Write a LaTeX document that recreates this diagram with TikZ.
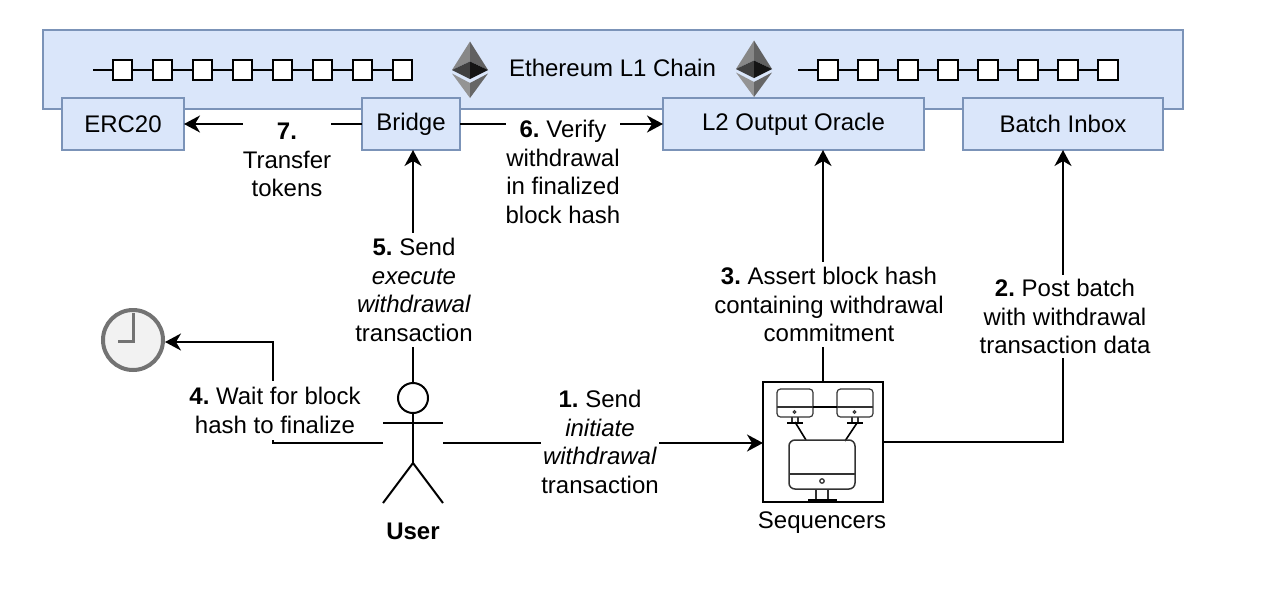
\documentclass[tikz,border=0pt]{standalone}
\usepackage{fontspec}
\setmainfont{Liberation Sans}
\usetikzlibrary{arrows.meta}
\definecolor{boxfill}{HTML}{DAE6FA}
\definecolor{boxline}{HTML}{7B93B8}
\newcommand{\boxtext}[1]{\raisebox{-1.5pt}{\fontsize{24}{28}\selectfont #1}}
\tikzset{
  mainbox/.style={draw=boxline,fill=boxfill,line width=2pt,minimum width=#1,minimum height=52pt,outer sep=0pt,inner sep=0pt},
  chainsq/.style={draw=black,fill=white,line width=1.6pt,minimum width=19.5pt,minimum height=19.5pt,outer sep=0pt,inner sep=0pt},
  conn/.style={line width=2pt,-{Stealth[length=16pt,width=17pt,inset=5pt]}},
  lbl/.style={fill=white,align=center,inner xsep=0pt,inner ysep=0pt,font=\fontsize{24}{28.8}\selectfont},
  txt/.style={align=center,inner sep=0pt,font=\fontsize{24}{28.8}\selectfont},
  monline/.style={draw=black!80,line width=1.2pt,rounded corners=3.5pt},
  figline/.style={line width=2pt,draw=black}
}
\newcommand{\ethicon}[2]{%
  \begin{scope}[shift={(#1,#2)}]
    \fill[black!47] (0,0) -- (-18,28.5) -- (0,20) -- cycle;
    \fill[black!62] (0,0) -- (18,28.5) -- (0,20) -- cycle;
    \fill[black!75] (0,20) -- (-18,28.5) -- (0,37.5) -- cycle;
    \fill[black!92] (0,20) -- (18,28.5) -- (0,37.5) -- cycle;
    \fill[black!42] (-18,32) -- (0,41.5) -- (0,56.5) -- cycle;
    \fill[black!60] (18,32) -- (0,41.5) -- (0,56.5) -- cycle;
  \end{scope}}
\newcommand{\smallmon}[1]{%
  \begin{scope}[shift={(#1,0)}]
    \draw[monline] (777,389) rectangle (813,417);
    \draw[black!80,line width=1.2pt] (777,407) -- (813,407);
    \draw[black!80,line width=1pt] (794.5,412) circle (1.4);
    \draw[black!80,line width=1.1pt] (792,417) -- (792,423) (798,417) -- (798,423);
    \draw[black,line width=1.6pt] (787,423) -- (803,423);
  \end{scope}}
\begin{document}
\frenchspacing
\begin{tikzpicture}[x=1pt,y=-1pt]
\useasboundingbox (0,0) rectangle (1270,590);
% main chain box
\node[draw=boxline,fill=boxfill,line width=2pt,minimum width=1140pt,minimum height=79pt,outer sep=0pt,inner sep=0pt] (l1) at (613,69.5) {};
\node[txt] (l1label) at (612.5,68) {Ethereum L1 Chain};
\ethicon{470}{41.5}
\ethicon{754}{40.5}
% chains
\coordinate (ca) at (93,70);
\foreach \i in {1,...,8} {
  \node[chainsq] (a\i) at ({82.5+40*\i},70) {};
}
\coordinate (cb) at (798,70);
\foreach \i in {1,...,8} {
  \node[chainsq] (b\i) at ({788+40*\i},70) {};
}
\draw[line width=1.6pt] (ca) -- (a1);
\draw[line width=1.6pt] (cb) -- (b1);
\foreach \i/\j in {1/2,2/3,3/4,4/5,5/6,6/7,7/8} {
  \draw[line width=1.6pt] (a\i) -- (a\j);
  \draw[line width=1.6pt] (b\i) -- (b\j);
}
% contract boxes
\node[mainbox=122pt] (erc) at (123,124) {\boxtext{ERC20}};
\node[mainbox=98pt] (bridge) at (411,124) {\boxtext{Bridge}};
\node[mainbox=261pt] (oracle) at (793.5,124) {\boxtext{L2 Output Oracle}};
\node[mainbox=200pt] (inbox) at (1063,124) {\boxtext{Batch Inbox}};
% clock
\node[circle,draw=black!55,fill=black!5,line width=4pt,minimum size=60pt,inner sep=0pt,outer sep=2pt] (clock) at (133,340) {};
\draw[black!55,line width=3pt] (133,313) -- (133,341) -- (118,341);
% sequencers
\node[draw=black,line width=2pt,minimum width=120pt,minimum height=120pt,outer sep=0pt,inner sep=0pt] (seq) at (823,442) {};
\node[txt] (seqlabel) at (822,522.5) {Sequencers};
\smallmon{0}
\smallmon{60}
\draw[line width=1.6pt] (813,407) -- (837,407);
\draw[line width=1.6pt] (795,422) -- (806,440);
\draw[line width=1.6pt] (857,423) -- (845,441);
\draw[monline,line width=1.5pt,rounded corners=6pt] (789,440) rectangle (855,489);
\draw[black!80,line width=1.5pt] (789,474) -- (855,474);
\draw[black!80,line width=1.3pt] (822,481) circle (2.2);
\draw[black!80,line width=1.3pt] (816,489) -- (816,500) (828,489) -- (828,500);
\draw[black,line width=2.4pt] (808,500) -- (837,500);
% user
\node[minimum width=60pt,minimum height=120pt,inner sep=0pt,outer sep=0pt] (user) at (413,443) {};
\draw[figline] (413,398) circle (15);
\draw[figline] (413,413) -- (413,463);
\draw[figline] (383,423) -- (443,423);
\draw[figline] (383,503) -- (413,463) -- (443,503);
\node[txt,font=\fontsize{24}{28.8}\selectfont\bfseries] (userlabel) at (413,531) {User};
% connectors
\draw[conn] (user.east) -- (user.east -| seq.west);
\draw[conn] (seq.east) -- (seq.east -| inbox.south) -- (inbox.south);
\draw[conn] (seq.north) -- (oracle.south -| seq.north);
\draw[conn] (user.west) -- ++(-110,0) |- ([yshift=-2pt]clock.east);
\draw[conn] (user.north) -- (bridge.south -| user.north);
\draw[conn] (bridge.east) -- (oracle.west);
\draw[conn] (bridge.west) -- (erc.east);
% labels
\node[lbl] (n1) at (600,442) {\textbf{1.} Send\\\textit{initiate}\\\textit{withdrawal}\\transaction};
\node[lbl,minimum height=83pt] (n2) at (1065,316.5) {\textbf{2.} Post batch\\with withdrawal\\transaction data};
\node[lbl,minimum height=85pt] (n3) at (829,304.5) {\textbf{3.} Assert block hash\\containing withdrawal\\commitment};
\node[lbl,minimum height=59pt] (n4) at (275,410.5) {\textbf{4.} Wait for block\\hash to finalize};
\node[lbl,minimum height=114pt] (n5) at (414,290) {\textbf{5.} Send\\\textit{execute}\\\textit{withdrawal}\\transaction};
\node[lbl] (n6) at (563,172) {\textbf{6.} Verify\\withdrawal\\in finalized\\block hash};
\node[lbl] (n7) at (287,160) {\textbf{7.}\\Transfer\\tokens};
\end{tikzpicture}
\end{document}
